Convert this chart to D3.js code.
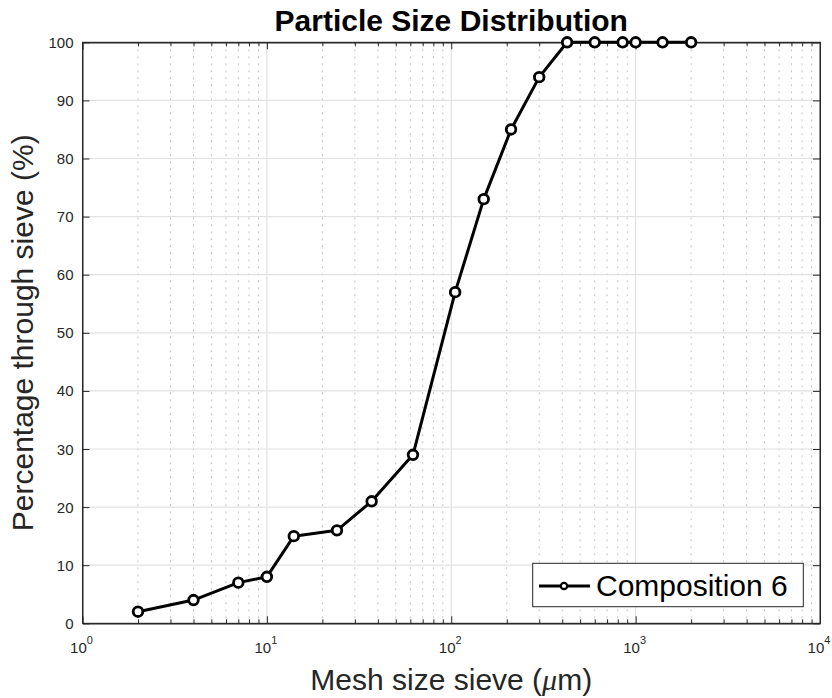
<!DOCTYPE html>
<html><head><meta charset="utf-8">
<script src="https://cdn.jsdelivr.net/npm/d3@7"></script>
<style>body{margin:0;background:#fff;} text{font-family:"Liberation Sans",Arial,Helvetica,sans-serif;}</style>
</head><body>
<svg id="c" width="832" height="698"></svg>
<script>
const meshSizes = [2, 4, 7, 10, 14, 24, 37, 62, 105, 150, 211, 300, 425, 600, 850, 1000, 1400, 2000];
const percentPassing = [2, 4, 7, 8, 15, 16, 21, 29, 57, 73, 85, 94, 100, 100, 100, 100, 100, 100];
const yTicks = [0, 10, 20, 30, 40, 50, 60, 70, 80, 90, 100];
const xDecades = [1, 10, 100, 1000, 10000];
const xExponents = ["0", "1", "2", "3", "4"];
const seriesName = "Composition 6";

const svg = d3.select("#c");
const L = 82.5, R = 820, T = 42.3, B = 623.3;
const x = d3.scaleLog().domain([1, 10000]).range([L, R]);
const y = d3.scaleLinear().domain([0, 100]).range([B, T]);
const axisCol = "#262626";

const minor = [];
for (let d = 1; d < 10000; d *= 10) for (let k = 2; k <= 9; k++) minor.push(d * k);

const g = svg.append("g");
g.selectAll(".mg").data(minor).enter().append("line")
  .attr("x1", d => x(d)).attr("x2", d => x(d)).attr("y1", T).attr("y2", B)
  .attr("stroke", "#c4c4c4").attr("stroke-width", 1).attr("stroke-dasharray", "2,5");
g.selectAll(".xg").data(xDecades.slice(1, -1)).enter().append("line")
  .attr("x1", d => x(d)).attr("x2", d => x(d)).attr("y1", T).attr("y2", B)
  .attr("stroke", "#e2e2e2").attr("stroke-width", 1.2);
g.selectAll(".yg").data(yTicks.slice(1, -1)).enter().append("line")
  .attr("x1", L).attr("x2", R).attr("y1", d => y(d)).attr("y2", d => y(d))
  .attr("stroke", "#e2e2e2").attr("stroke-width", 1.2);

const xb = d3.axisBottom(x).tickValues(xDecades).tickFormat("").tickSizeInner(-7).tickSizeOuter(0);
const xbm = d3.axisBottom(x).tickValues(minor).tickFormat("").tickSizeInner(-4).tickSizeOuter(0);
const xt = d3.axisTop(x).tickValues(xDecades).tickFormat("").tickSizeInner(-7).tickSizeOuter(0);
const xtm = d3.axisTop(x).tickValues(minor).tickFormat("").tickSizeInner(-4).tickSizeOuter(0);
const yl = d3.axisLeft(y).tickValues(yTicks).tickFormat("").tickSizeInner(-7).tickSizeOuter(0);
const yr = d3.axisRight(y).tickValues(yTicks).tickFormat("").tickSizeInner(-7).tickSizeOuter(0);
function styleAxis(sel) { sel.selectAll("line,path").attr("stroke", axisCol).attr("stroke-width", 1); }
svg.append("g").attr("transform", `translate(0,${B})`).call(xb).call(styleAxis);
svg.append("g").attr("transform", `translate(0,${B})`).call(xbm).call(styleAxis);
svg.append("g").attr("transform", `translate(0,${T})`).call(xt).call(styleAxis);
svg.append("g").attr("transform", `translate(0,${T})`).call(xtm).call(styleAxis);
svg.append("g").attr("transform", `translate(${L},0)`).call(yl).call(styleAxis);
svg.append("g").attr("transform", `translate(${R},0)`).call(yr).call(styleAxis);
svg.append("rect").attr("x", L).attr("y", T).attr("width", R - L).attr("height", B - T)
  .attr("fill", "none").attr("stroke", axisCol).attr("stroke-width", 1);

svg.selectAll(".yl").data(yTicks).enter().append("text")
  .attr("x", L - 9).attr("y", d => y(d) + 5.5).attr("text-anchor", "end")
  .attr("font-size", 15).attr("fill", axisCol).text(d => d);
const xl = svg.selectAll(".xl").data(xDecades).enter().append("text")
  .attr("x", d => x(d) - 1).attr("y", B + 30).attr("text-anchor", "middle")
  .attr("font-size", 15).attr("fill", axisCol);
xl.append("tspan").text("10");
xl.append("tspan").attr("dy", -9).attr("font-size", 11).text((d, i) => xExponents[i]);

const line = d3.line().x(d => x(d[0])).y(d => y(d[1]));
const pts = meshSizes.map((m, i) => [m, percentPassing[i]]);
svg.append("path").datum(pts).attr("d", line).attr("fill", "none")
  .attr("stroke", "#000").attr("stroke-width", 3).attr("stroke-linejoin", "round");
svg.selectAll(".pt").data(pts).enter().append("circle")
  .attr("cx", d => x(d[0])).attr("cy", d => y(d[1])).attr("r", 4.8)
  .attr("fill", "#fff").attr("stroke", "#000").attr("stroke-width", 2.8);

svg.append("text").attr("x", (L + R) / 2).attr("y", 31).attr("text-anchor", "middle")
  .attr("font-size", 30).attr("font-weight", "bold").attr("fill", "#000").text("Particle Size Distribution");
const xt2 = svg.append("text").attr("x", (L + R) / 2).attr("y", 690).attr("text-anchor", "middle")
  .attr("font-size", 30).attr("fill", axisCol);
xt2.append("tspan").text("Mesh size sieve (");
xt2.append("tspan").attr("font-style", "italic").attr("font-family", "'Liberation Serif',serif").text("μ");
xt2.append("tspan").text("m)");
svg.append("text").attr("transform", `translate(33,${(T + B) / 2}) rotate(-90)`)
  .attr("text-anchor", "middle").attr("font-size", 30).attr("fill", axisCol).text("Percentage through sieve (%)");

const lg = svg.append("g");
lg.append("rect").attr("x", 532.7).attr("y", 563.3).attr("width", 270.6).attr("height", 43.4)
  .attr("fill", "#fff").attr("stroke", axisCol).attr("stroke-width", 1);
lg.append("line").attr("x1", 539).attr("x2", 590).attr("y1", 586).attr("y2", 586)
  .attr("stroke", "#000").attr("stroke-width", 3);
lg.append("circle").attr("cx", 564).attr("cy", 586).attr("r", 3.2)
  .attr("fill", "#fff").attr("stroke", "#000").attr("stroke-width", 2.2);
lg.append("text").attr("x", 596).attr("y", 596).attr("font-size", 30).attr("fill", "#000").text(seriesName);
</script>
</body></html>
